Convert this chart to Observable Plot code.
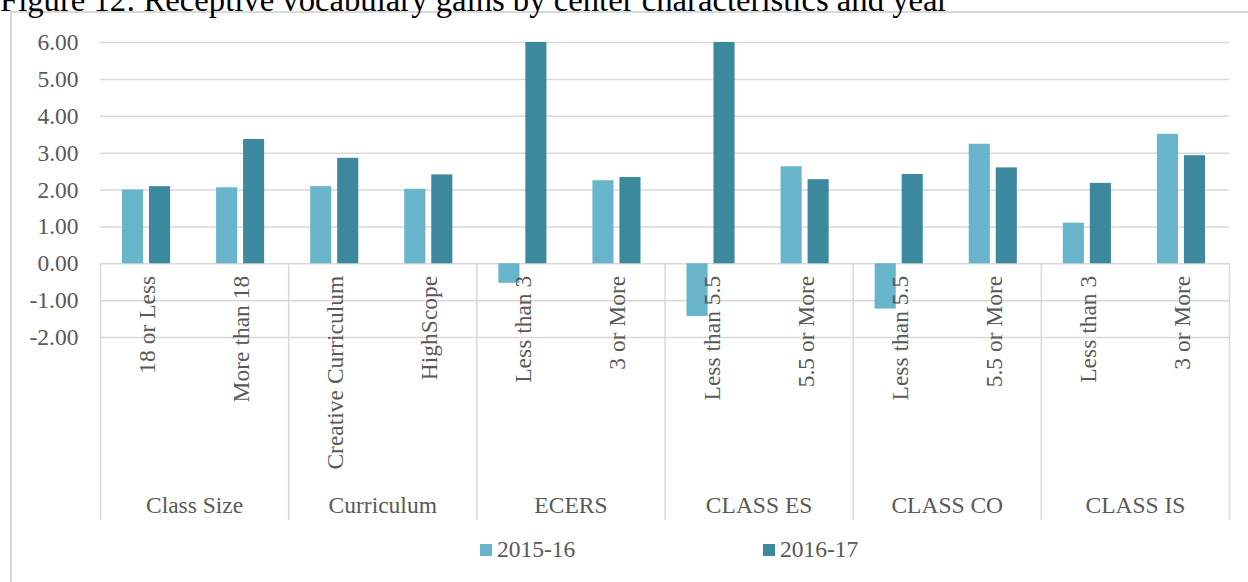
<!DOCTYPE html>
<html><head><meta charset="utf-8">
<script src="https://cdn.jsdelivr.net/npm/d3@7"></script>
<script src="https://cdn.jsdelivr.net/npm/@observablehq/plot@0.6"></script>
<style>
html,body{margin:0;padding:0;background:#fff;}
#wrap{position:relative;width:1248px;height:582px;overflow:hidden;font-family:"Liberation Serif","Times New Roman",serif;}
#frame{position:absolute;left:10px;top:11px;width:1300px;height:700px;border:2px solid #d9d9d9;box-sizing:border-box;}
#title{position:absolute;left:0px;top:-15px;font-size:32.7px;line-height:30px;color:#000;white-space:nowrap;}
#chart{position:absolute;left:0;top:0;}
.sw{position:absolute;width:12px;height:12px;}
.lt{position:absolute;font-size:23.5px;line-height:26px;color:#595959;white-space:nowrap;}
</style>
</head><body>
<div id="wrap">
  <div id="frame"></div>
  <div id="title">Figure 12: Receptive vocabulary gains by center characteristics and year</div>
  <div id="chart"></div>
  <div id="legend"></div>
</div>
<script>
const groups = ["Class Size","Curriculum","ECERS","CLASS ES","CLASS CO","CLASS IS"];
const categories = ["18 or Less","More than 18","Creative Curriculum","HighScope","Less than 3","3 or More","Less than 5.5","5.5 or More","Less than 5.5","5.5 or More","Less than 3","3 or More"];
const categoryGroups = ["Class Size","Class Size","Curriculum","Curriculum","ECERS","ECERS","CLASS ES","CLASS ES","CLASS CO","CLASS CO","CLASS IS","CLASS IS"];
const series = ["2015-16","2016-17"];
const gains2015 = [2.00, 2.06, 2.09, 2.02, -0.53, 2.25, -1.43, 2.63, -1.23, 3.24, 1.10, 3.51];
const gains2016 = [2.09, 3.37, 2.86, 2.41, 6.00, 2.34, 6.00, 2.28, 2.42, 2.60, 2.18, 2.93];
const yTicks = [-2, -1, 0, 1, 2, 3, 4, 5, 6];
const colors = ["#68B4CB", "#3C899E"];

const keys = categories.map((c, i) => categoryGroups[i] + " | " + c);
const rows = categories.map((c, i) => ({key: keys[i], group: categoryGroups[i], category: c, v2015: gains2015[i], v2016: gains2016[i]}));
const groupFirst = groups.map(g => rows.find(r => r.group === g));
const lastRow = rows[rows.length - 1];

const W = 1248, H = 582, mL = 100, mR = 19, mT = 42, mB = 245;
const bw = (W - mL - mR) / keys.length;
const grey = "#595959", gridC = "#d9d9d9";
const fs = 23.5;

const chart = Plot.plot({
  width: W, height: H,
  marginLeft: mL, marginRight: mR, marginTop: mT, marginBottom: mB,
  style: {fontFamily: '"Liberation Serif","Times New Roman",serif', fontSize: fs + "px", color: grey, background: "transparent", overflow: "visible"},
  x: {domain: keys, padding: 0, round: false, axis: null},
  y: {domain: [-2, 6], axis: null},
  marks: [
    Plot.ruleY(yTicks, {y: d => d, stroke: gridC, strokeWidth: 1.5}),
    Plot.ruleX(groupFirst, {x: "key", y1: 0, y2: -2, dx: -bw / 2, insetBottom: -183, stroke: gridC, strokeWidth: 1.5}),
    Plot.ruleX([lastRow], {x: "key", y1: 0, y2: -2, dx: bw / 2, insetBottom: -183, stroke: gridC, strokeWidth: 1.5}),
    Plot.barY(rows, {x: "key", y: "v2015", fill: colors[0], insetLeft: 22, insetRight: 51}),
    Plot.barY(rows, {x: "key", y: "v2016", fill: colors[1], insetLeft: 49, insetRight: 24}),
    Plot.axisY(yTicks, {tickFormat: d => d.toFixed(2), tickSize: 0, tickPadding: 22, fill: grey, fontSize: fs}),
    Plot.text(rows, {x: "key", y: 0, text: "category", rotate: -90, textAnchor: "end", lineAnchor: "middle", dy: 12, fill: grey, fontSize: fs}),
    Plot.text(groupFirst, {x: "key", y: -2, text: "group", dx: bw / 2, dy: 168, textAnchor: "middle", lineAnchor: "middle", fill: grey, fontSize: fs})
  ]
});
document.getElementById("chart").appendChild(chart);

const legend = document.getElementById("legend");
const legPos = [480, 763];
series.forEach((s, i) => {
  const sw = document.createElement("div");
  sw.className = "sw"; sw.style.left = legPos[i] + "px"; sw.style.top = "544px"; sw.style.background = colors[i];
  legend.appendChild(sw);
  const t = document.createElement("div");
  t.className = "lt"; t.style.left = (legPos[i] + 17) + "px"; t.style.top = "536px"; t.textContent = s;
  legend.appendChild(t);
});
</script>
</body></html>
